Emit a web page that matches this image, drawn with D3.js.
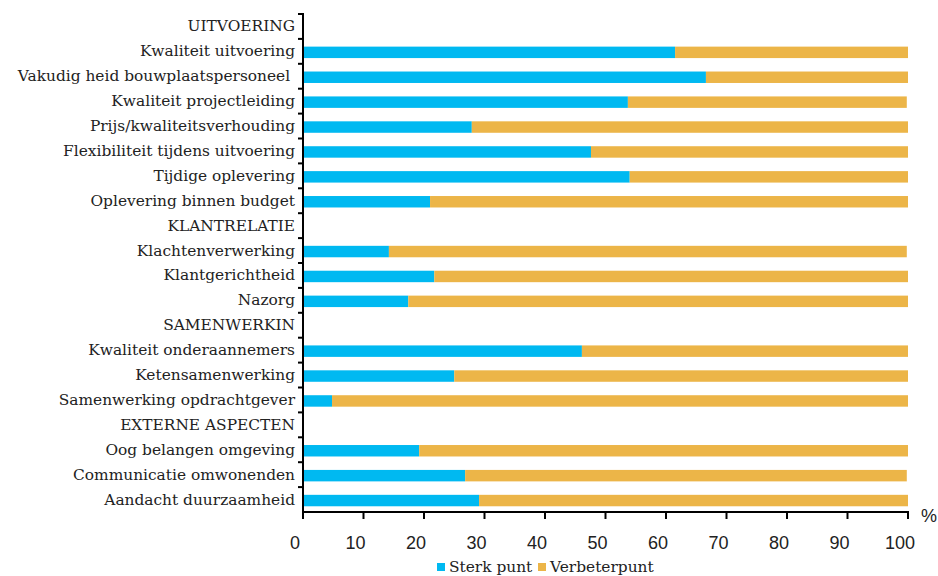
<!DOCTYPE html>
<html><head><meta charset="utf-8">
<script src="https://cdn.jsdelivr.net/npm/d3@7"></script>
<style>body{margin:0;background:#fff}svg{display:block}</style>
</head><body>
<svg id="chart" width="938" height="576"></svg>
<script>
const categories = ["UITVOERING","Kwaliteit uitvoering","Vakudig heid bouwplaatspersoneel ","Kwaliteit projectleiding","Prijs/kwaliteitsverhouding","Flexibiliteit tijdens uitvoering","Tijdige oplevering","Oplevering binnen budget","KLANTRELATIE","Klachtenverwerking","Klantgerichtheid","Nazorg","SAMENWERKIN","Kwaliteit onderaannemers","Ketensamenwerking","Samenwerking opdrachtgever","EXTERNE ASPECTEN","Oog belangen omgeving","Communicatie omwonenden","Aandacht duurzaamheid"];
const sterkPunt = [null,61.5,66.6,53.7,27.9,47.6,54.0,21.0,null,14.2,21.7,17.4,null,46.1,25.0,4.8,null,19.2,26.8,29.1];
const verbeterPunt = [null,38.5,33.4,46.1,72.1,52.4,46.0,79.0,null,85.6,78.3,82.6,null,53.9,75.0,95.2,null,80.8,73.0,70.9];
const seriesNames = ["Sterk punt","Verbeterpunt"];
const colors = ["#00B9F1","#ECB548"];
const xTicks = [0,10,20,30,40,50,60,70,80,90,100];

(function(){
const svg = d3.select("#chart");
const mLeft = 303, mRight = 908, mTop = 14, mBottom = 512;
const x = d3.scaleLinear().domain([0,100]).range([mLeft,mRight]);
const y = d3.scaleBand().domain(categories).range([mTop,mBottom]).padding(0);
const barH = y.bandwidth()*0.46;
const serif = "'DejaVu Serif'";
const fs = 15.4;

const rows = categories.map((c,i)=>({c, s:sterkPunt[i], v:verbeterPunt[i]})).filter(d=>d.s!=null);
const g = svg.append("g");
g.selectAll("rect.s").data(rows).join("rect")
  .attr("x", x(0)).attr("y", d=>y(d.c)+y.bandwidth()/2-barH/2+1)
  .attr("width", d=>x(d.s)-x(0)).attr("height", barH).attr("fill", colors[0]);
g.selectAll("rect.v").data(rows).join("rect")
  .attr("x", d=>x(d.s)).attr("y", d=>y(d.c)+y.bandwidth()/2-barH/2+1)
  .attr("width", d=>x(d.s+d.v)-x(d.s)).attr("height", barH).attr("fill", colors[1]);

const ax = svg.append("g").attr("stroke","#000");
ax.append("line").attr("x1",mLeft).attr("x2",mLeft).attr("y1",mTop).attr("y2",mBottom).attr("stroke-width",2);
categories.forEach(c=>{
  ax.append("line").attr("x1",mLeft-5).attr("x2",mLeft+1).attr("y1",y(c)).attr("y2",y(c)).attr("stroke-width",2);
});
svg.append("g").selectAll("text").data(categories).join("text")
  .attr("x", mLeft-8).attr("y", d=>y(d)+y.bandwidth()/2)
  .attr("text-anchor","end").attr("dominant-baseline","central")
  .attr("font-family",serif).attr("font-size",fs).attr("fill","#222")
  .attr("xml:space","preserve").style("white-space","pre")
  .text(d=>d);

ax.append("line").attr("x1",mLeft-1).attr("x2",mRight+1).attr("y1",mBottom).attr("y2",mBottom).attr("stroke-width",2);
xTicks.forEach(t=>{
  ax.append("line").attr("x1",x(t)).attr("x2",x(t)).attr("y1",mBottom-1).attr("y2",mBottom+7).attr("stroke-width",2);
});
svg.append("g").selectAll("text").data(xTicks).join("text")
  .attr("x", d=>x(d)-8).attr("y", 543).attr("text-anchor","middle").attr("dominant-baseline","central")
  .attr("font-family","'Liberation Sans'").attr("font-size",18).attr("fill","#222").text(d=>d);
svg.append("text").attr("x",929).attr("y",516).attr("text-anchor","middle").attr("dominant-baseline","central")
  .attr("font-family","'Liberation Sans'").attr("font-size",18).attr("fill","#222").text("%");

const lg = svg.append("g");
const lx = [437, 538];
seriesNames.forEach((n,i)=>{
  lg.append("rect").attr("x",lx[i]).attr("y",563).attr("width",8).attr("height",8).attr("fill",colors[i]);
  lg.append("text").attr("x",lx[i]+12).attr("y",567).attr("dominant-baseline","central")
    .attr("font-family",serif).attr("font-size",fs).attr("fill","#222").text(n);
});
})();
</script>
</body></html>
